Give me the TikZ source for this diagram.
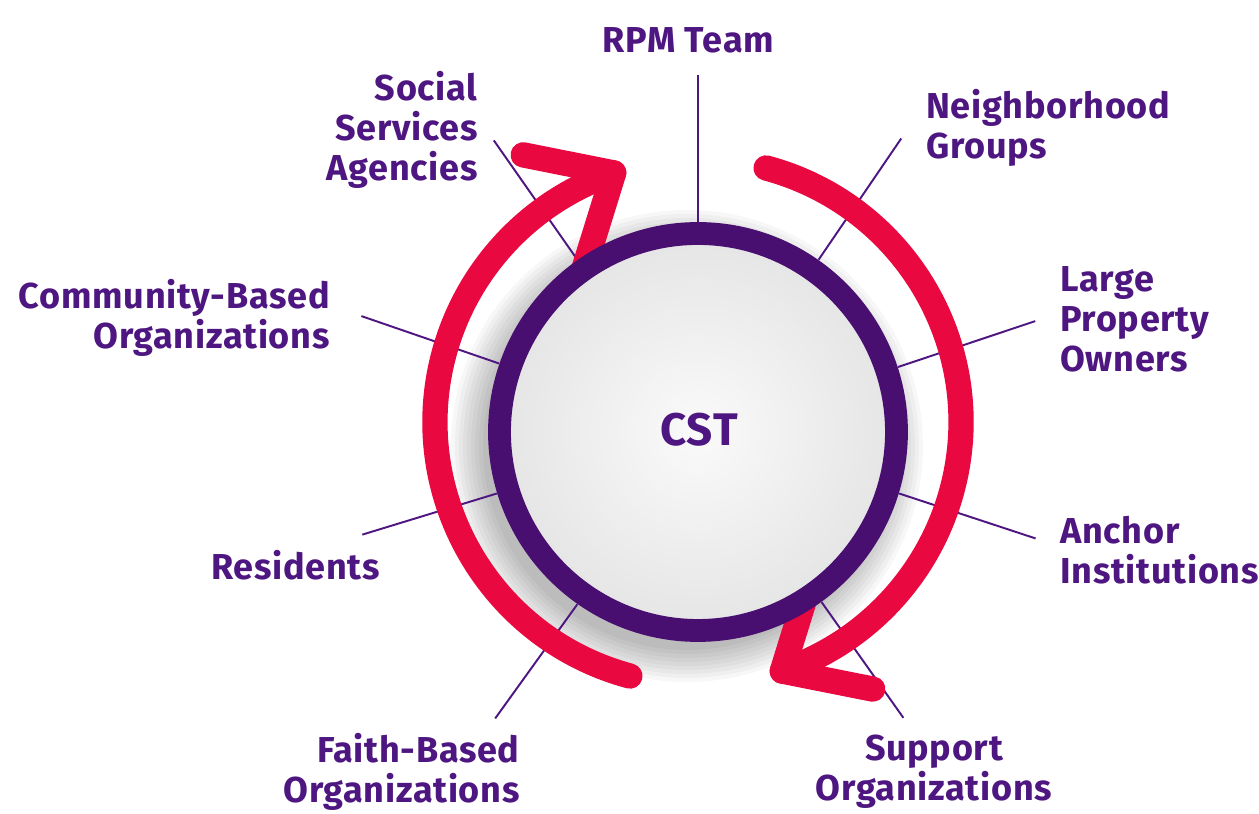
\documentclass[tikz,border=0pt]{standalone}
\usepackage{fontspec}
\setmainfont{Fira Sans}[LetterSpace=2]
\definecolor{lbl}{RGB}{78,22,128}
\definecolor{ringc}{RGB}{72,14,112}
\definecolor{arcred}{RGB}{233,8,63}
\definecolor{discin}{RGB}{250,250,250}
\definecolor{discout}{RGB}{230,230,230}
% one red band on a circle about (0,10), with its open chevron head
\newcommand\redsweep{%
  \draw[redarc] (0,10) ++(255:263) arc[start angle=255, end angle=108.7, radius=263]
    coordinate (tip);
  \draw[redarc] ($(tip)+(-90.5,18)$) -- (tip) -- ($(tip)+(-29.6,-95.5)$);
}
\usetikzlibrary{calc}
\begin{document}
\begin{tikzpicture}[x=0.02cm,y=0.02cm,
  lbltext/.style={text=lbl, font=\fontsize{20.5}{22.7}\selectfont\bfseries, inner sep=0pt},
  spoke/.style={draw=lbl, line width=1.1pt},
  redarc/.style={draw=arcred, line width=14.4pt, line cap=round, line join=round},
]
\useasboundingbox (-698,-382) rectangle (561,432);
\fill[white] (-698,-382) rectangle (561,432);

% hub outline used as anchor for the spokes
\node[circle, minimum size=8.4cm, inner sep=0pt] (hub) at (0,0) {};

% soft shadow below the disc
\foreach \r in {236,232,...,204}
  \fill[black, opacity=0.03] (-11,-14) circle (\r);

% spoke end points
\coordinate (e1) at (90:357);
\coordinate (e2) at (125:356);
\coordinate (e3) at (55.3:357);
\coordinate (e4) at (18.2:355);
\coordinate (e5) at (-17.5:354);
\coordinate (e6) at (-54.3:352);
\coordinate (e7) at (-125.3:351);
\coordinate (e8) at (-163:351);
\coordinate (e9) at (161:356);

\draw[spoke] (hub.90) -- (e1);
\draw[spoke] (hub.125) -- (e2);
\draw[spoke] (hub.55.3) -- (e3);
\draw[spoke] (hub.18.2) -- (e4);
\draw[spoke] (hub.-17.5) -- (e5);
\draw[spoke] (hub.-54.3) -- (e6);
\draw[spoke] (hub.-125.3) -- (e7);
\draw[spoke] (hub.-163) -- (e8);
\draw[spoke] (hub.161) -- (e9);

% the two red sweeps, one a half turn of the other
\redsweep
\begin{scope}[rotate around={180:(0,10)}]
  \redsweep
\end{scope}

% disc and ring
\shade[inner color=discin, outer color=discout] (0,0) circle (188);
\draw[ringc, line width=13pt] (0,0) circle (198.5);

% labels
\node[text=lbl, font=\fontsize{26}{30}\selectfont\bfseries, inner sep=0pt] (cst) at (1,2) {CST};
\node[lbltext] (rpm) at (-9.5,392) {RPM Team};
\node[lbltext, align=right, anchor=east] (social) at (-220,302) {Social\\Services\\Agencies};
\node[lbltext, align=left, anchor=west] (neigh) at (228,304) {Neighborhood\\Groups};
\node[lbltext, align=left, anchor=west] (large) at (362,113) {Large\\Property\\Owners};
\node[lbltext, align=left, anchor=west] (anchor) at (362,-118) {Anchor\\Institutions};
\node[lbltext, align=center] (support) at (236,-340) {Support\\Organizations};
\node[lbltext, align=right, anchor=east] (faith) at (-178,-340) {Faith-Based\\Organizations};
\node[lbltext, anchor=east] (resid) at (-318,-133) {Residents};
\node[lbltext, align=right, anchor=east] (comm) at (-368,114) {Community-Based\\Organizations};
\end{tikzpicture}
\end{document}
